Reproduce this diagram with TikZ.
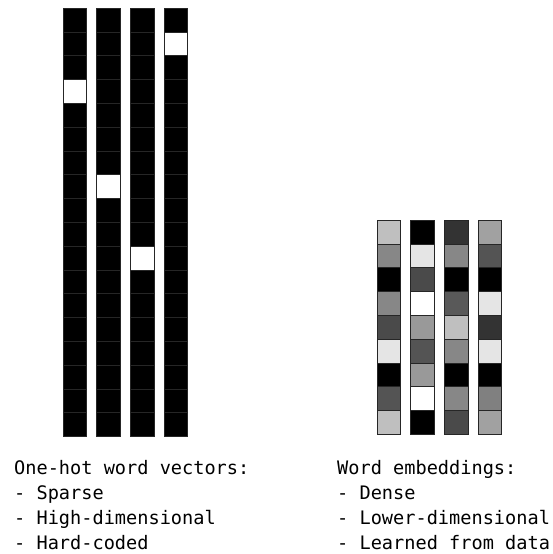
\documentclass[tikz,border=0pt]{standalone}
\usepackage{fontspec}
\setmonofont{DejaVu Sans Mono}
\usetikzlibrary{positioning}

\begin{document}
\begin{tikzpicture}[x=1pt, y=-1pt,
    cell/.style={draw=black!85, line width=0.3pt},
    caption/.style={font=\ttfamily\fontsize{18.6}{25}\selectfont, align=left, anchor=base west, inner sep=0pt}
]
    \useasboundingbox (0,0) rectangle (552,554);

    % One-hot vectors (column / index of the hot cell)
    \foreach \col/\hot in {0/3, 1/7, 2/10, 3/1} {
        \foreach \row in {0,...,17} {
            \ifnum\row=\hot \def\shade{white}\else \def\shade{black}\fi
            \draw[cell, fill=\shade] ({63+\col*33.6}, {8+\row*23.8}) rectangle ++(23.6, 23.8);
        }
    }

    % Word embeddings (percent of black per cell)
    \foreach \col/\vals in {0/{25,47,100,47,71,10,100,67,25},
                            1/{100,10,71,0,40,67,40,0,100},
                            2/{80,47,100,65,25,47,100,47,71},
                            3/{37,67,100,10,80,10,100,50,37}} {
        \foreach \v [count=\row from 0] in \vals {
            \draw[cell, fill=black!\v] ({377+\col*33.6}, {220+\row*23.8}) rectangle ++(23.6, 23.8);
        }
    }

    % Captions (anchored at the baseline of the last line)
    \node[caption] (onehot) at (14, 549) {One-hot word vectors:\\- Sparse\\- High-dimensional\\- Hard-coded};
    \node[caption] (embed) at (337, 549) {Word embeddings:\\- Dense\\- Lower-dimensional\\- Learned from data};
\end{tikzpicture}
\end{document}
